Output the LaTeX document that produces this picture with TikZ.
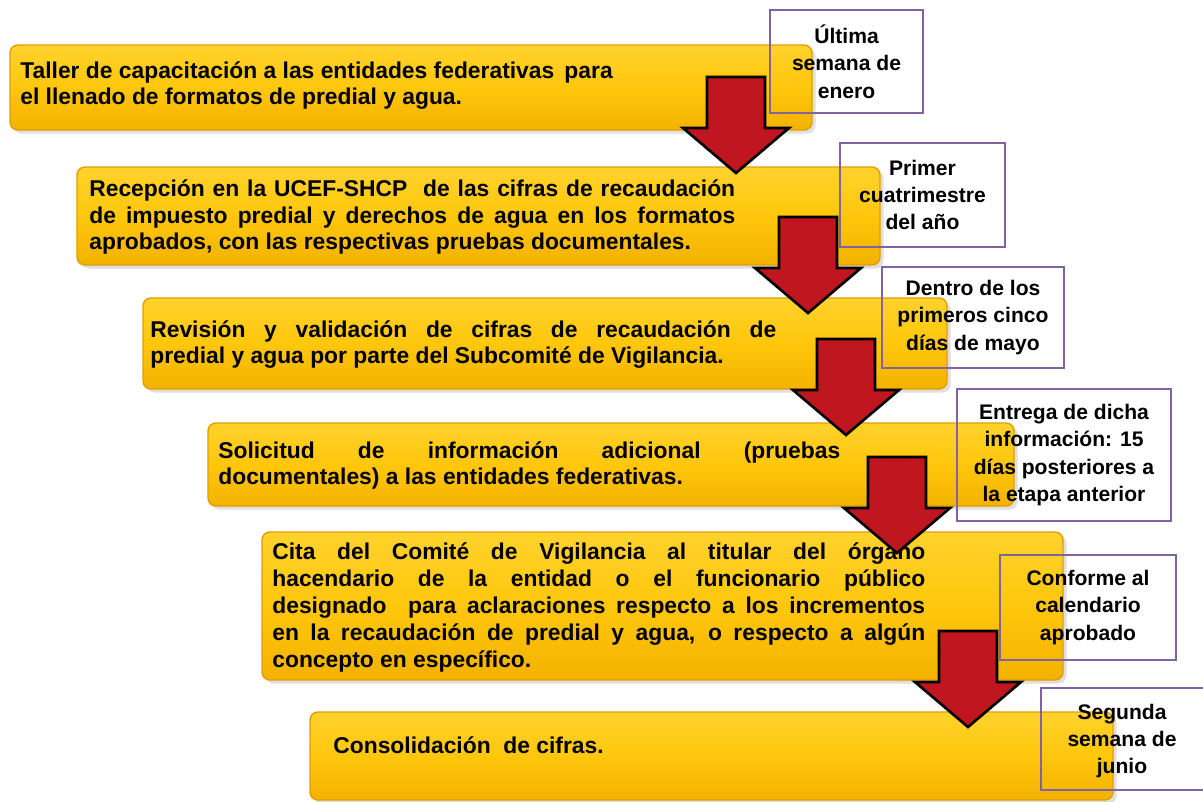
\documentclass[tikz,border=0pt]{standalone}
\usepackage{fontspec}
\setmainfont{Liberation Sans}
\usetikzlibrary{fit, shadows}

\definecolor{bargold}{RGB}{255,199,12}
\definecolor{bartop}{RGB}{255,210,45}
\definecolor{barbot}{RGB}{243,178,0}
\definecolor{baredge}{RGB}{226,158,0}
\definecolor{arrowred}{RGB}{192,22,32}
\definecolor{boxpurple}{RGB}{128,100,162}

\begin{document}
\begin{tikzpicture}[x=0.02cm, y=-0.02cm,
  stepbar/.style={top color=bartop, bottom color=barbot, middle color=bargold,
    draw=baredge, line width=0.8pt, rounded corners=4.5pt, inner sep=0pt,
    drop shadow={shadow xshift=2pt, shadow yshift=-2pt, opacity=0.25}},
  steptext/.style={anchor=west, inner sep=0pt, align=justify,
    font=\bfseries\fontsize{13}{15.3}\selectfont},
  timebox/.style={draw=boxpurple, line width=1pt, inner sep=0pt},
  timetext/.style={inner sep=0pt, align=center,
    font=\bfseries\fontsize{12}{15.6}\selectfont},
  downarrow/.style={fill=arrowred, draw=black, line width=1.5pt, line join=miter}]

	\useasboundingbox (0,0) rectangle (1203,801);

	% Yellow step bars
	\node[stepbar, fit={(10,45) (812,130)}] (b1) {};
	\node[stepbar, fit={(77,167) (880,265)}] (b2) {};
	\node[stepbar, fit={(143,298) (947,389)}] (b3) {};
	\node[stepbar, fit={(208,423) (1014,506)}] (b4) {};
	\node[stepbar, fit={(262,532) (1063,680)}] (b5) {};
	\node[stepbar, fit={(310,712) (1113,800)}] (b6) {};

	% Texts of the steps
	\node[steptext, align=left] (t1) at (20,85.5)
		{Taller de capacitación a las entidades federativas \,para\\el llenado de formatos de predial y agua.};
	\node[steptext, text width=12.92cm] (t2) at (89,217)
		{Recepción en la UCEF-SHCP \ de las cifras de recaudación \linebreak de impuesto predial y derechos de agua en los formatos \linebreak aprobados, con las respectivas pruebas documentales.};
	\node[steptext, text width=12.52cm] (t3) at (150,344.5)
		{Revisión y validación de cifras de recaudación de \linebreak predial y agua por parte del Subcomité de Vigilancia.};
	\node[steptext, text width=12.44cm] (t4) at (218,465.5)
		{Solicitud de información adicional (pruebas \linebreak documentales) a las entidades federativas.};
	\node[steptext, text width=13.06cm] (t5) at (272,607.5)
		{Cita del Comité de Vigilancia al titular del órgano \linebreak hacendario de la entidad o el funcionario público \linebreak designado \ para aclaraciones respecto a los incrementos \linebreak en la recaudación de predial y agua, o respecto a algún \linebreak concepto en específico.};
	\node[steptext, align=left] (t6) at (333,745) {Consolidación \ de cifras.};

	% Red arrows between the steps
	\foreach \ax/\ay in {736/77, 808/217, 846/339, 897/457, 968/631}
		\draw[downarrow] (\ax-29,\ay) -- (\ax-29,\ay+51) -- (\ax-53,\ay+51) -- (\ax,\ay+96)
			-- (\ax+53,\ay+51) -- (\ax+29,\ay+51) -- (\ax+29,\ay) -- cycle;

	% Time boxes
	\node[timebox, fit={(770,10) (923,113)}] (k1) {};
	\node[timebox, fit={(840,143) (1005,247)}] (k2) {};
	\node[timebox, fit={(882,267) (1064,368)}] (k3) {};
	\node[timebox, fit={(957,389) (1171,521)}] (k4) {};
	\node[timebox, fit={(1000,555) (1176,660)}] (k5) {};
	\node[timebox, fit={(1041,688) (1206,790)}] (k6) {};

	\node[timetext] (kt1) at (k1.center) {Última\\semana de\\enero};
	\node[timetext] (kt2) at (k2.center) {Primer\\cuatrimestre\\del año};
	\node[timetext] (kt3) at (k3.center) {Dentro de los\\primeros cinco\\días de mayo};
	\node[timetext] (kt4) at (k4.center) {Entrega de dicha\\información: 15\\días posteriores a\\la etapa anterior};
	\node[timetext] (kt5) at (k5.center) {Conforme al\\calendario\\aprobado};
	\node[timetext] (kt6) at (1122,741) {Segunda\\semana de\\junio};

\end{tikzpicture}
\end{document}
